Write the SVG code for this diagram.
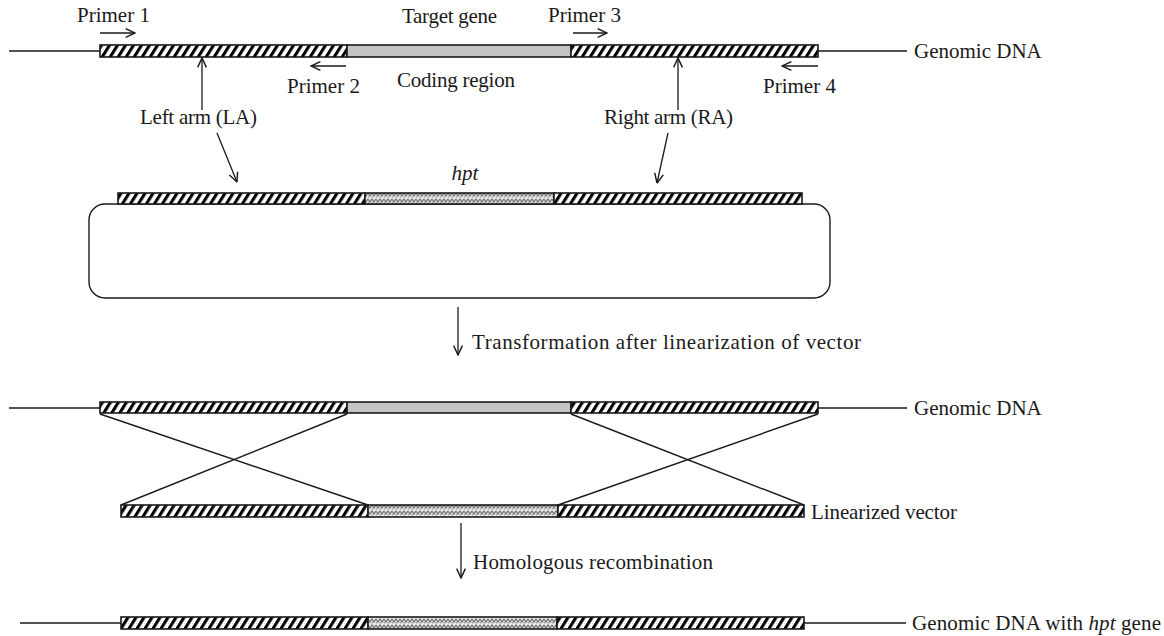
<svg xmlns="http://www.w3.org/2000/svg" width="1164" height="636" viewBox="0 0 1164 636">
<style>
text{font-family:"Liberation Serif","Times New Roman",serif;font-size:21px;fill:#1a1a1a}
.it{font-style:italic}
.ln{stroke:#1a1a1a;stroke-width:1.4;fill:none}
.bar{stroke:#1a1a1a;stroke-width:1.6}
.h{fill:url(#hatch)}
.p{fill:url(#hpt)}
.g{fill:#c4c4c4}
.arr{stroke:#1a1a1a;stroke-width:1.3;fill:none;marker-end:url(#ah)}
</style>
<defs>
<pattern id="hatch" patternUnits="userSpaceOnUse" width="8" height="24" patternTransform="skewX(-32)">
<rect width="8" height="24" fill="#fff"/><rect width="3.6" height="24" fill="#000"/>
</pattern>
<pattern id="hpt" patternUnits="userSpaceOnUse" width="8" height="6">
<rect width="8" height="6" fill="#e4e4e4"/>
<path d="M0,1 L2,4 L4,1 L6,4 L8,1" stroke="#666" stroke-width="1.1" fill="none"/>
<path d="M0,5.5 L2,3 M4,5.5 L6,3" stroke="#777" stroke-width="0.9" fill="none"/>
</pattern>
<marker id="ah" viewBox="0 0 10 10" refX="9.5" refY="5" markerWidth="11" markerHeight="11" markerUnits="userSpaceOnUse" orient="auto">
<path d="M1,1 L9.5,5 L1,9" stroke="#1a1a1a" stroke-width="1.3" fill="none"/>
</marker>
</defs>

<g id="genomic-dna-1">
<line class="ln" x1="9" y1="51" x2="100" y2="51"/>
<rect class="bar h" x="100" y="45" width="247" height="12"/>
<rect class="bar g" x="347" y="45" width="224" height="12"/>
<rect class="bar h" x="571" y="45" width="247" height="12"/>
<line class="ln" x1="818" y1="51" x2="907" y2="51"/>
<text x="914" y="58">Genomic DNA</text>
<text x="77" y="22">Primer 1</text>
<text x="402" y="23" textLength="95">Target gene</text>
<text x="548" y="22">Primer 3</text>
<text x="287" y="93">Primer 2</text>
<text x="397" y="87" textLength="118">Coding region</text>
<text x="763" y="93">Primer 4</text>
<text x="140" y="124" textLength="117">Left arm (LA)</text>
<text x="604" y="124" textLength="129">Right arm (RA)</text>
</g>

<g id="vector">
<rect x="89" y="204" width="741" height="94" rx="16" ry="16" fill="none" stroke="#1a1a1a" stroke-width="1.4"/>
<rect class="bar h" x="118" y="193" width="247" height="11"/>
<rect class="bar p" x="365" y="193" width="189" height="11"/>
<rect class="bar h" x="554" y="193" width="248" height="11"/>
<text class="it" x="465" y="180" text-anchor="middle">hpt</text>
</g>

<g id="genomic-dna-2">
<line class="ln" x1="9" y1="408" x2="100" y2="408"/>
<rect class="bar h" x="100" y="402" width="247" height="11"/>
<rect class="bar g" x="347" y="402" width="224" height="11"/>
<rect class="bar h" x="571" y="402" width="247" height="11"/>
<line class="ln" x1="818" y1="408" x2="907" y2="408"/>
<text x="914" y="415">Genomic DNA</text>
</g>

<g id="linearized-vector">
<rect class="bar h" x="121" y="505" width="247" height="12"/>
<rect class="bar p" x="368" y="505" width="190" height="12"/>
<rect class="bar h" x="558" y="505" width="246" height="12"/>
<text x="811" y="519" textLength="146">Linearized vector</text>
</g>

<g id="recombined-dna">
<line class="ln" x1="20" y1="623" x2="121" y2="623"/>
<rect class="bar h" x="121" y="617" width="247" height="12"/>
<rect class="bar p" x="368" y="617" width="189" height="12"/>
<rect class="bar h" x="557" y="617" width="247" height="12"/>
<line class="ln" x1="804" y1="623" x2="906" y2="623"/>
<text x="912" y="630" textLength="249">Genomic DNA with <tspan class="it">hpt</tspan> gene</text>
</g>

<g id="connectors">
<line class="arr" x1="100" y1="33" x2="135" y2="33"/>
<line class="arr" x1="346" y1="66" x2="311" y2="66"/>
<line class="arr" x1="573" y1="33" x2="607" y2="33"/>
<line class="arr" x1="818" y1="66" x2="782" y2="66"/>
<line class="arr" x1="202" y1="110" x2="202" y2="58"/>
<line class="arr" x1="678" y1="110" x2="678" y2="58"/>
<line class="arr" x1="217" y1="133" x2="237" y2="182"/>
<line class="arr" x1="668" y1="133" x2="657" y2="183"/>
<line class="arr" x1="458" y1="307" x2="458" y2="355"/>
<text x="472" y="349" textLength="389">Transformation after linearization of vector</text>
<line class="arr" x1="461" y1="523" x2="461" y2="578"/>
<text x="473" y="569" textLength="240">Homologous recombination</text>
<line class="ln" x1="100" y1="414" x2="368" y2="505"/>
<line class="ln" x1="347" y1="414" x2="121" y2="505"/>
<line class="ln" x1="571" y1="414" x2="804" y2="505"/>
<line class="ln" x1="818" y1="414" x2="558" y2="505"/>
</g>
</svg>
